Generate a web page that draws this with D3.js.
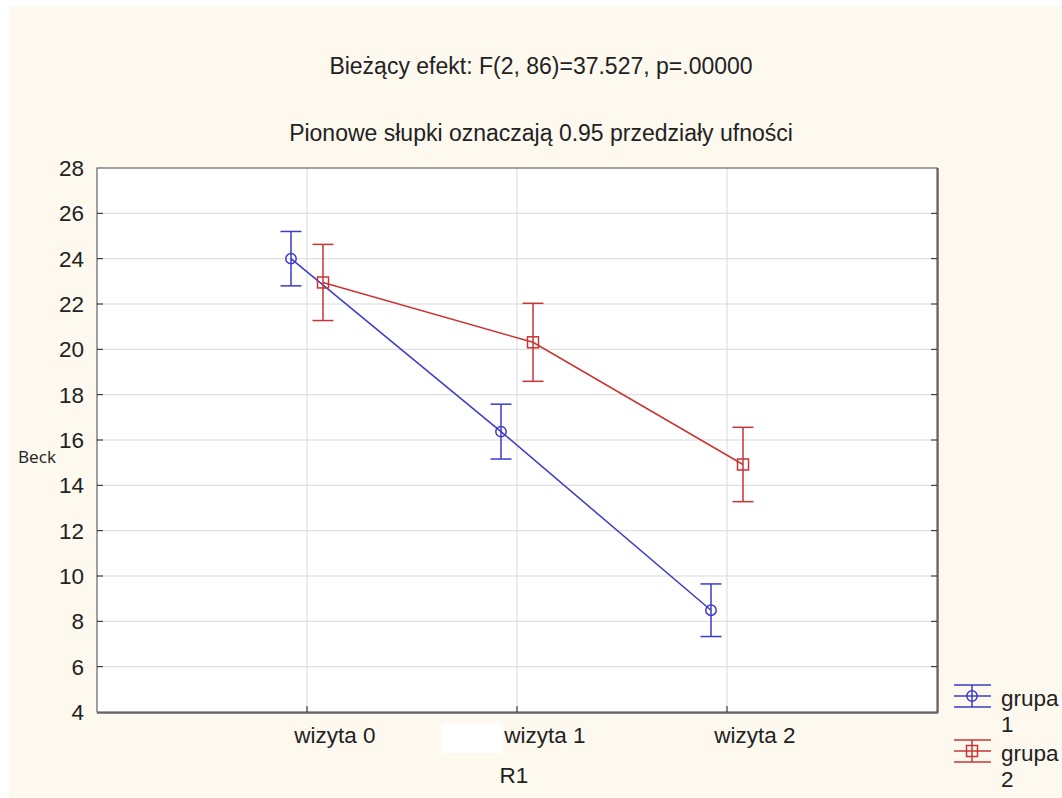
<!DOCTYPE html>
<html>
<head>
<meta charset="utf-8">
<script src="https://cdn.jsdelivr.net/npm/d3@7"></script>
<style>
  body { margin: 0; background: #fff; }
  svg { display: block; }
</style>
</head>
<body>
<svg id="chart" width="1062" height="798"></svg>
<script>
const categories = ["wizyta 0", "wizyta 1", "wizyta 2"];
const groupNames = ["grupa 1", "grupa 2"];
const group1Means = [24.0, 16.37, 8.49];
const group1Err = [1.2, 1.21, 1.16];
const group2Means = [22.95, 20.31, 14.92];
const group2Err = [1.68, 1.72, 1.64];
const yTicks = [4, 6, 8, 10, 12, 14, 16, 18, 20, 22, 24, 26, 28];

const svg = d3.select("#chart");
const width = 1062, height = 798;
const margin = { top: 168, right: 125, bottom: 86, left: 97 };
const innerWidth = width - margin.left - margin.right;
const innerHeight = height - margin.top - margin.bottom;
const font = "'Liberation Sans', Arial, sans-serif";
const fs = 22.5;
const titleFs = 23;

// cream background, with a thin white strip at the top and left
svg.append("rect").attr("width", width).attr("height", height).attr("fill", "#fff");
svg.append("rect").attr("x", 9).attr("y", 6).attr("width", width - 9).attr("height", height - 6)
  .attr("fill", "#fdf9ef");

const x = d3.scaleLinear().domain([-1, categories.length]).range([0, innerWidth]);
const y = d3.scaleLinear().domain([4, 28]).range([innerHeight, 0]);

const g = svg.append("g").attr("transform", `translate(${margin.left},${margin.top})`);

g.append("rect").attr("width", innerWidth).attr("height", innerHeight).attr("fill", "#fff");

// grid
g.selectAll(".hgrid").data(yTicks.slice(1, -1)).join("line")
  .attr("x1", 0).attr("x2", innerWidth)
  .attr("y1", d => y(d)).attr("y2", d => y(d))
  .attr("stroke", "#d9d9d9").attr("stroke-width", 1);
g.selectAll(".vgrid").data(categories).join("line")
  .attr("x1", (d, i) => x(i)).attr("x2", (d, i) => x(i))
  .attr("y1", 0).attr("y2", innerHeight)
  .attr("stroke", "#d9d9d9").attr("stroke-width", 1);

// shadowed frame
g.append("line").attr("x1", innerWidth + 1).attr("x2", innerWidth + 1).attr("y1", 0).attr("y2", innerHeight + 1)
  .attr("stroke", "#888").attr("stroke-width", 2);
g.append("line").attr("x1", 0).attr("x2", innerWidth + 1).attr("y1", innerHeight + 1).attr("y2", innerHeight + 1)
  .attr("stroke", "#888").attr("stroke-width", 2);
g.append("rect").attr("width", innerWidth).attr("height", innerHeight)
  .attr("fill", "none").attr("stroke", "#444").attr("stroke-width", 1);

// y axis ticks (inward both sides)
g.selectAll(".ytickL").data(yTicks.slice(1, -1)).join("line")
  .attr("x1", 0).attr("x2", 6).attr("y1", d => y(d)).attr("y2", d => y(d))
  .attr("stroke", "#222");
g.selectAll(".ytickR").data(yTicks.slice(1, -1)).join("line")
  .attr("x1", innerWidth - 6).attr("x2", innerWidth).attr("y1", d => y(d)).attr("y2", d => y(d))
  .attr("stroke", "#222");
g.selectAll(".ylab").data(yTicks).join("text")
  .attr("x", -13).attr("y", d => y(d)).attr("dy", "0.36em")
  .attr("text-anchor", "end").attr("font-family", font).attr("font-size", fs).attr("fill", "#222")
  .text(d => d);

// x axis ticks and labels
g.selectAll(".xtick").data(categories).join("line")
  .attr("x1", (d, i) => x(i)).attr("x2", (d, i) => x(i))
  .attr("y1", innerHeight - 6).attr("y2", innerHeight)
  .attr("stroke", "#222");
g.selectAll(".xlab").data(categories).join("text")
  .attr("x", (d, i) => x(i) + 28).attr("y", innerHeight + 31)
  .attr("text-anchor", "middle").attr("font-family", font).attr("font-size", fs).attr("fill", "#222")
  .text(d => d);

// white patch under the axis
svg.append("rect").attr("x", 441).attr("y", 723).attr("width", 62).attr("height", 30).attr("fill", "#fff");

// series
const series = [
  { name: groupNames[0], means: group1Means, err: group1Err, color: "#3b3bc8", offset: -16, shape: "circle" },
  { name: groupNames[1], means: group2Means, err: group2Err, color: "#c83434", offset: 16, shape: "square" }
];

const line = d3.line().x(d => d[0]).y(d => d[1]);

series.forEach(s => {
  const pts = s.means.map((m, i) => [x(i) + s.offset, y(m)]);
  g.append("path").attr("d", line(pts)).attr("fill", "none")
    .attr("stroke", s.color).attr("stroke-width", 1.5);

  s.means.forEach((m, i) => {
    const cx = x(i) + s.offset;
    const top = y(m + s.err[i]), bot = y(m - s.err[i]);
    const eb = g.append("g").attr("stroke", s.color).attr("stroke-width", 1.5);
    eb.append("line").attr("x1", cx).attr("x2", cx).attr("y1", top).attr("y2", bot);
    eb.append("line").attr("x1", cx - 10.5).attr("x2", cx + 10.5).attr("y1", top).attr("y2", top);
    eb.append("line").attr("x1", cx - 10.5).attr("x2", cx + 10.5).attr("y1", bot).attr("y2", bot);
    if (s.shape === "circle") {
      eb.append("circle").attr("cx", cx).attr("cy", y(m)).attr("r", 5.2).attr("fill", "none");
    } else {
      eb.append("rect").attr("x", cx - 5.5).attr("y", y(m) - 5.5).attr("width", 11).attr("height", 11).attr("fill", "none");
    }
  });
});

// legend
const legendY = [696, 751];
series.forEach((s, k) => {
  const cy = legendY[k];
  const lg = svg.append("g").attr("stroke", s.color).attr("stroke-width", 1.5);
  [-11, 0, 11].forEach(dy => {
    lg.append("line").attr("x1", 954).attr("x2", 991).attr("y1", cy + dy).attr("y2", cy + dy);
  });
  lg.append("line").attr("x1", 972).attr("x2", 972).attr("y1", cy - 11).attr("y2", cy + 11);
  if (s.shape === "circle") {
    lg.append("circle").attr("cx", 972).attr("cy", cy).attr("r", 5.2).attr("fill", "none");
  } else {
    lg.append("rect").attr("x", 966.5).attr("y", cy - 5.5).attr("width", 11).attr("height", 11).attr("fill", "none");
  }
  const parts = s.name.split(" ");
  const t = svg.append("text").attr("font-family", font).attr("font-size", fs).attr("fill", "#222");
  t.append("tspan").attr("x", 1001).attr("y", cy + 10).text(parts[0]);
  t.append("tspan").attr("x", 1001).attr("y", cy + 36).text(parts[1]);
});

// titles
svg.append("text").attr("x", 541).attr("y", 74).attr("text-anchor", "middle")
  .attr("font-family", font).attr("font-size", titleFs).attr("fill", "#222")
  .text("Bieżący efekt: F(2, 86)=37.527, p=.00000");
svg.append("text").attr("x", 541).attr("y", 141).attr("text-anchor", "middle")
  .attr("font-family", font).attr("font-size", titleFs).attr("fill", "#222")
  .text("Pionowe słupki oznaczają 0.95 przedziały ufności");

// axis titles
svg.append("text").attr("x", 514).attr("y", 783).attr("text-anchor", "middle")
  .attr("font-family", font).attr("font-size", fs).attr("fill", "#222")
  .text("R1");
svg.append("text").attr("x", 18).attr("y", 463)
  .attr("font-family", "'Open Sans', 'DejaVu Sans', sans-serif").attr("font-size", 17).attr("fill", "#222")
  .attr("textLength", 38).attr("lengthAdjust", "spacingAndGlyphs")
  .text("Beck");
</script>
</body>
</html>
